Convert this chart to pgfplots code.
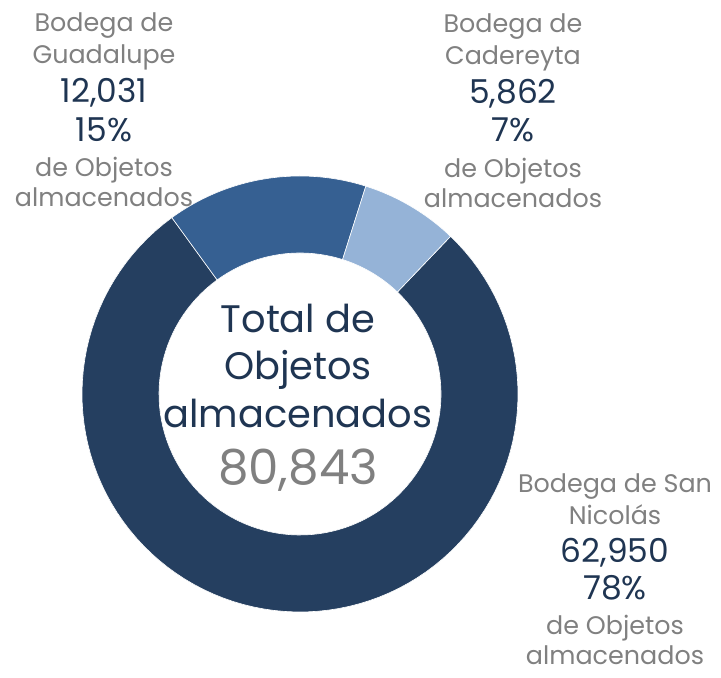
\documentclass[border=0pt]{standalone}
\usepackage{pgfplots}
\pgfplotsset{compat=1.18}
\usepackage{fontspec}
\setmainfont{Poppins}
\definecolor{cSN}{HTML}{253F60}
\definecolor{cGU}{HTML}{366092}
\definecolor{cCA}{HTML}{95B3D7}
\definecolor{tnavy}{HTML}{1F3552}
\definecolor{tgray}{HTML}{808080}
% data
\def\vGU{12031}
\def\vCA{5862}
\def\vSN{62950}
\edef\tot{\fpeval{\vGU+\vCA+\vSN}}
\def\aStart{126}
\edef\aA{\aStart}
\edef\aB{\fpeval{round(\aA-360*\vGU/\tot,3)}}
\edef\aC{\fpeval{round(\aB-360*\vCA/\tot,3)}}
\edef\aD{\fpeval{round(\aC-360*\vSN/\tot,3)}}
\def\cx{300}\def\cy{284}\def\Ro{218}\def\Ri{141}
\newcommand{\donutwedge}[3]{%
\addplot[fill=#3, draw=white, line width=0.6pt, samples at={0,...,201}, variable=\t]
 ({\cx + (\t<=100 ? \Ro : \Ri)*cos(\t<=100 ? #1+(#2-#1)*\t/100 : #2-(#2-#1)*(\t-101)/100)},
  {\cy + (\t<=100 ? \Ro : \Ri)*sin(\t<=100 ? #1+(#2-#1)*\t/100 : #2-(#2-#1)*(\t-101)/100)}) -- cycle;}
\begin{document}
\begin{tikzpicture}
\begin{axis}[scale only axis, width=721bp, height=678bp,
  xmin=0, xmax=721, ymin=0, ymax=678, hide axis, clip=false]
\donutwedge{\aC}{\aD}{cSN}
\donutwedge{\aA}{\aB}{cGU}
\donutwedge{\aB}{\aC}{cCA}
% labels
\tikzset{g/.style={anchor=base, text=tgray, font=\fontsize{25.5}{25.5}\selectfont, inner sep=0pt},
         n/.style={anchor=base, text=tnavy, font=\fontsize{33}{33}\selectfont, inner sep=0pt}}
% Guadalupe
\node[g] at (axis cs:104,{678-32}) {Bodega de};
\node[g] at (axis cs:104,{678-64}) {Guadalupe};
\node[n] at (axis cs:104,{678-103}) {12,031};
\node[n] at (axis cs:104,{678-142}) {15\%};
\node[g] at (axis cs:104,{678-177}) {de Objetos};
\node[g] at (axis cs:104,{678-207}) {almacenados};
% Cadereyta
\node[g] at (axis cs:513,{678-33}) {Bodega de};
\node[g] at (axis cs:513,{678-65}) {Cadereyta};
\node[n] at (axis cs:513,{678-104}) {5,862};
\node[n] at (axis cs:513,{678-142}) {7\%};
\node[g] at (axis cs:513,{678-178}) {de Objetos};
\node[g] at (axis cs:513,{678-208}) {almacenados};
% San Nicolas
\node[g] at (axis cs:615,{678-493}) {Bodega de San};
\node[g] at (axis cs:615,{678-525}) {Nicolás};
\node[n] at (axis cs:615,{678-563}) {62,950};
\node[n] at (axis cs:615,{678-600}) {78\%};
\node[g] at (axis cs:615,{678-635}) {de Objetos};
\node[g] at (axis cs:615,{678-664}) {almacenados};
% center
\tikzset{c/.style={anchor=base, text=tnavy, font=\fontsize{38.5}{38.5}\selectfont, inner sep=0pt}}
\node[c] at (axis cs:298,{678-333}) {Total de};
\node[c] at (axis cs:298,{678-380}) {Objetos};
\node[c] at (axis cs:298,{678-428}) {almacenados};
\node[anchor=base, text=tgray, font=\fontsize{48.5}{48.5}\selectfont, inner sep=0pt] at (axis cs:298,{678-485}) {80,843};
\pgfresetboundingbox
\path[use as bounding box] (rel axis cs:0,0) rectangle (rel axis cs:1,1);
\end{axis}
\end{tikzpicture}
\end{document}
